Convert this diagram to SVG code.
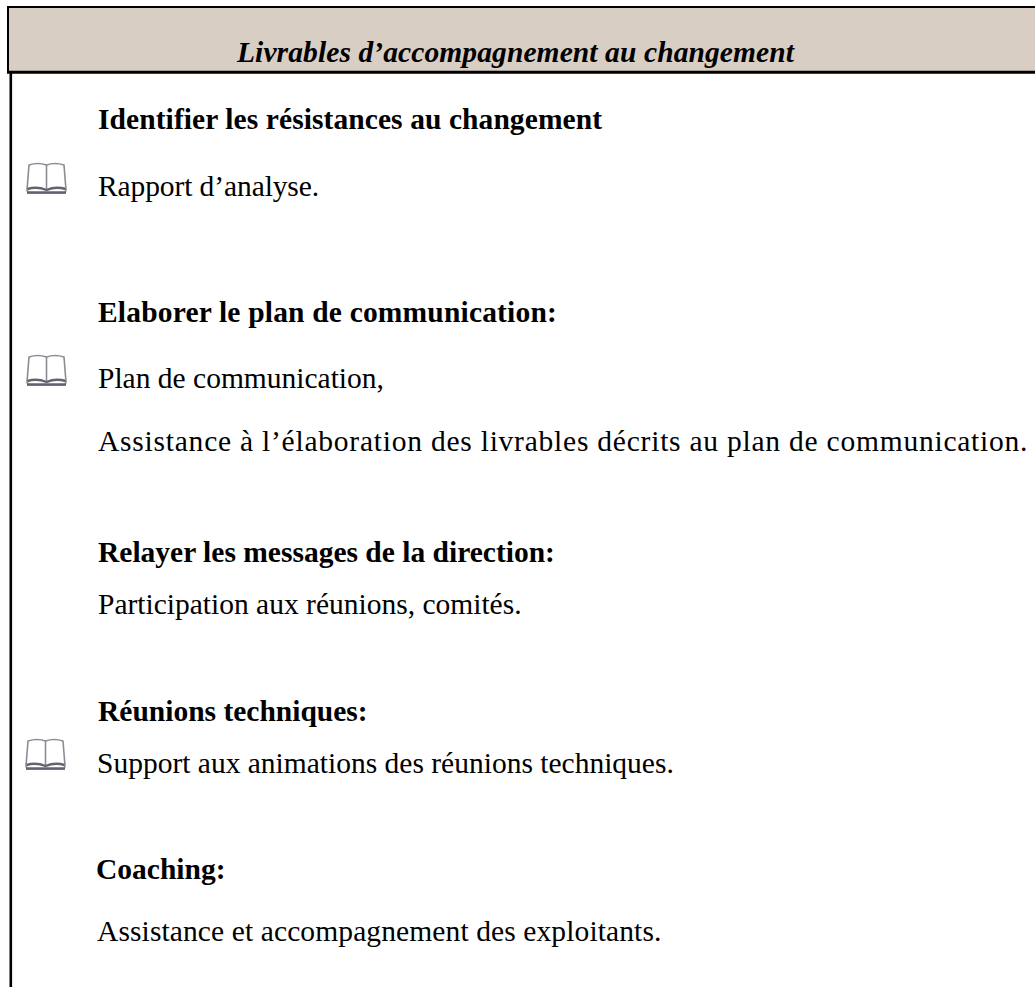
<svg xmlns="http://www.w3.org/2000/svg" width="1035" height="987" viewBox="0 0 1035 987">
<style>
text{font-family:"Liberation Serif","Times New Roman",serif;fill:#000;font-size:29.5px}
.b{font-weight:bold}
.h{font-weight:bold;font-style:italic;letter-spacing:.1px}
.page{fill:#fff;stroke:#8b8d96;stroke-width:1.6;stroke-linejoin:round}
.base{fill:none;stroke:#62646c;stroke-width:2.4}
</style>
<defs>
<filter id="soft" x="-10%" y="-10%" width="120%" height="120%"><feGaussianBlur stdDeviation=".45"/></filter>
<g id="book" filter="url(#soft)">
<path class="page" d="M3 3Q12 0 20.500 3Q29 0 38 3L40 28L39 31H2L1 28Z"/>
<path class="page" d="M20.500 3V27"/>
<path class="base" d="M1.500 27Q11 24 20.500 28Q30 24 39.500 27"/>
<path class="base" d="M1 30.500H40"/>
</g>
</defs>
<rect width="1035" height="987" fill="#fff"/>
<g id="header">
<rect x="8" y="7" width="1040" height="65" fill="#d8cec4" stroke="#000" stroke-width="2"/>
<path d="M7 72.200H1035" stroke="#000" stroke-width="3"/>
<text class="h" x="237" y="62">Livrables d’accompagnement au changement</text>
</g>
<path id="left-border" d="M10.800 72V987" stroke="#000" stroke-width="2.600"/>
<g id="sec1">
<text class="b" x="98" y="129" style="letter-spacing:.08px">Identifier les résistances au changement</text>
<use href="#book" x="26" y="162"/>
<text x="98" y="196" style="letter-spacing:-.1px">Rapport d’analyse.</text>
</g>
<g id="sec2">
<text class="b" x="98" y="322" style="letter-spacing:.18px">Elaborer le plan de communication:</text>
<use href="#book" x="26" y="354"/>
<text x="98" y="388">Plan de communication,</text>
<text x="98" y="451" style="letter-spacing:.77px">Assistance à l’élaboration des livrables décrits au plan de communication.</text>
</g>
<g id="sec3">
<text class="b" x="98" y="562">Relayer les messages de la direction:</text>
<text x="98" y="614">Participation aux réunions, comités.</text>
</g>
<g id="sec4">
<text class="b" x="98" y="721">Réunions techniques:</text>
<use href="#book" x="25" y="738"/>
<text x="97" y="773">Support aux animations des réunions techniques.</text>
</g>
<g id="sec5">
<text class="b" x="96" y="879">Coaching:</text>
<text x="97" y="941" style="letter-spacing:.11px">Assistance et accompagnement des exploitants.</text>
</g>
</svg>
